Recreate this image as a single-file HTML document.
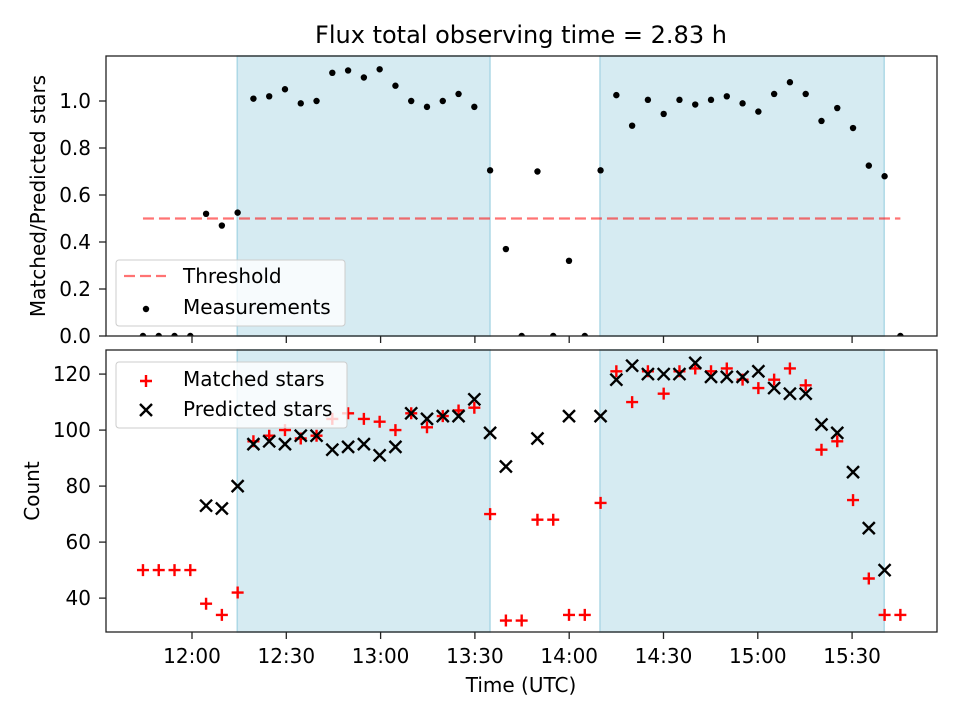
<!DOCTYPE html>
<html><head><meta charset="utf-8"><style>
body{margin:0;background:#fff}
svg{display:block;font-family:"DejaVu Sans","Liberation Sans",sans-serif}
</style></head><body>
<svg id="chart" width="960" height="720" xmlns="http://www.w3.org/2000/svg"></svg>
<script>
// ---- data ----
const startMinutes = -15.6;      // first observation, minutes after 12:00 UTC
const stepMinutes = 5.02;        // cadence
const ratio = [0,0,0,0,0.52,0.47,0.525,1.01,1.02,1.05,0.99,1.0,1.12,1.13,1.10,1.135,1.065,1.0,0.975,1.0,1.03,0.975,0.705,0.37,0,0.70,0,0.32,0,0.705,1.025,0.895,1.005,0.945,1.005,0.985,1.005,1.02,0.99,0.955,1.03,1.08,1.03,0.915,0.97,0.885,0.725,0.68,0];
const matched = [50,50,50,50,38,34,42,96,98,100,97,98,104,106,104,103,100,106,101,105,107,108,70,32,32,68,68,34,34,74,121,110,121,113,121,122,121,122,118,115,118,122,116,93,96,75,47,34,34];
const predicted = [null,null,null,null,73,72,80,95,96,95,98,98,93,94,95,91,94,106,104,105,105,111,99,87,null,97,null,105,null,105,118,123,120,120,120,124,119,119,119,121,115,113,113,102,99,85,65,50,null];
const threshold = 0.5;
const spans = [[14.4,94.8],[129.8,220.2]]; // minutes after 12:00
const xTickMinutes = [0,30,60,90,120,150,180,210];
const xTickLabels = ["12:00","12:30","13:00","13:30","14:00","14:30","15:00","15:30"];
const topTicks = [0,0.2,0.4,0.6,0.8,1.0];
const topTickLabels = ["0.0","0.2","0.4","0.6","0.8","1.0"];
const botTicks = [40,60,80,100,120];
const botTickLabels = ["40","60","80","100","120"];

// ---- layout ----
const L=106,R=937, T1=56,B1=336, T2=350,B2=632;
const FS=20;
const xS = m => 192 + m*3.1433;
const yTop = v => B1 - (v/1.1915)*(B1-T1);
const yBot = v => B2 - (v-27.9)/(128.6-27.9)*(B2-T2);
const tOf = i => startMinutes + i*stepMinutes;
const svg = document.getElementById('chart');
const NS="http://www.w3.org/2000/svg";
function mk(tag, attrs, parent, name, inter){
  const e=document.createElementNS(NS,tag);
  for(const k in attrs) e.setAttribute(k,attrs[k]);
  
  
  (parent||svg).appendChild(e); return e;
}
function txt(x,y,s,size,anchor,name,extra){
  const e=mk('text',Object.assign({x:x,y:y,'font-size':size,'text-anchor':anchor,fill:'#000'},extra||{}),svg,name);
  e.textContent=s; return e;
}

// title
txt(521,43,"Flux total observing time = 2.83 h",24,"middle","chart-title");

function panel(T,B,yS,ticks,labels,prefix,ylabel,ylx){
  const g=mk('g',{},svg,prefix+'-axes');
  const clipId=prefix+'clip';
  const cp=mk('clipPath',{id:clipId},g,prefix+'-clip');
  mk('rect',{x:L,y:T,width:R-L,height:B-T},cp,prefix+'-clip-rect');
  spans.forEach((s,k)=>{
    mk('rect',{x:xS(s[0]),y:T,width:xS(s[1])-xS(s[0]),height:B-T,fill:'#add8e6','fill-opacity':0.5,stroke:'#add8e6','stroke-width':1.5},g,prefix+'-span-'+(k+1));
  });
  ticks.forEach((v,k)=>{
    const y=yS(v);
    mk('line',{x1:L-7,x2:L,y1:y,y2:y,stroke:'#222','stroke-width':1.3},g,prefix+'-ytick');
    txt(L-15,y+7,labels[k],FS,"end",prefix+'-ytick-label');
  });
  xTickMinutes.forEach(m=>{
    mk('line',{x1:xS(m),x2:xS(m),y1:B,y2:B+7,stroke:'#222','stroke-width':1.3},g,prefix+'-xtick');
  });
  txt(0,0,ylabel,FS,"middle",prefix+'-y-axis-title',{transform:`translate(${ylx},${(T+B)/2}) rotate(-90)`});
  return {g,clipId};
}

const topPanel=panel(T1,B1,yTop,topTicks,topTickLabels,'top','Matched/Predicted stars',45);
const botPanel=panel(T2,B2,yBot,botTicks,botTickLabels,'bottom','Count',39);

// threshold line
mk('line',{x1:xS(tOf(0)),x2:xS(tOf(ratio.length-1)),y1:yTop(threshold),y2:yTop(threshold),stroke:'#ff0000','stroke-opacity':0.55,'stroke-width':2.2,'stroke-dasharray':'11,5'},topPanel.g,'threshold-line');

// measurements
const mg=mk('g',{'clip-path':`url(#${topPanel.clipId})`},topPanel.g,'measurements-series');
ratio.forEach((v,i)=>{
  mk('circle',{cx:xS(tOf(i)),cy:yTop(v),r:3.2,fill:'#000'},mg,'measurement-point');
});

function plus(g,x,y,name){
  mk('path',{d:`M${x-6},${y}H${x+6}M${x},${y-6}V${y+6}`,stroke:'#ff0000','stroke-width':2.4},g,name);
}
function cross(g,x,y,name){
  mk('path',{d:`M${x-6},${y-6}L${x+6},${y+6}M${x-6},${y+6}L${x+6},${y-6}`,stroke:'#000','stroke-width':2.4},g,name);
}
const mg2=mk('g',{},botPanel.g,'matched-series');
matched.forEach((v,i)=>{ if(v!==null) plus(mg2,xS(tOf(i)),yBot(v),'matched-point'); });
const pg=mk('g',{},botPanel.g,'predicted-series');
predicted.forEach((v,i)=>{ if(v!==null) cross(pg,xS(tOf(i)),yBot(v),'predicted-point'); });

// frames
mk('rect',{x:L,y:T1,width:R-L,height:B1-T1,fill:'none',stroke:'#222','stroke-width':1.3},topPanel.g,'top-frame');
mk('rect',{x:L,y:T2,width:R-L,height:B2-T2,fill:'none',stroke:'#222','stroke-width':1.3},botPanel.g,'bottom-frame');

// x tick labels + title
xTickMinutes.forEach((m,k)=>txt(xS(m),B2+31,xTickLabels[k],FS,"middle",'x-tick-label'));
txt(521,692,"Time (UTC)",FS,"middle","x-axis-title");

// legends
const lg1=mk('g',{},svg,'top-legend');
mk('rect',{x:116,y:260,width:229,height:66,rx:3,fill:'#fff','fill-opacity':0.8,stroke:'#ccc'},lg1,'top-legend-box');
mk('line',{x1:124,x2:166,y1:276,y2:276,stroke:'#ff0000','stroke-opacity':0.55,'stroke-width':2.2,'stroke-dasharray':'11,5'},lg1,'legend-threshold-swatch');
txt(183,283,"Threshold",FS,"start","legend-threshold-label");
mk('circle',{cx:146,cy:309,r:3.2,fill:'#000'},lg1,'legend-measurements-swatch');
txt(183,314,"Measurements",FS,"start","legend-measurements-label");

const lg2=mk('g',{},svg,'bottom-legend');
mk('rect',{x:116,y:362,width:231,height:66,rx:3,fill:'#fff','fill-opacity':0.8,stroke:'#ccc'},lg2,'bottom-legend-box');
plus(lg2,146,381,'legend-matched-swatch');
txt(183,386,"Matched stars",FS,"start","legend-matched-label");
cross(lg2,146,410,'legend-predicted-swatch');
txt(183,416,"Predicted stars",FS,"start","legend-predicted-label");
</script>
</body></html>
